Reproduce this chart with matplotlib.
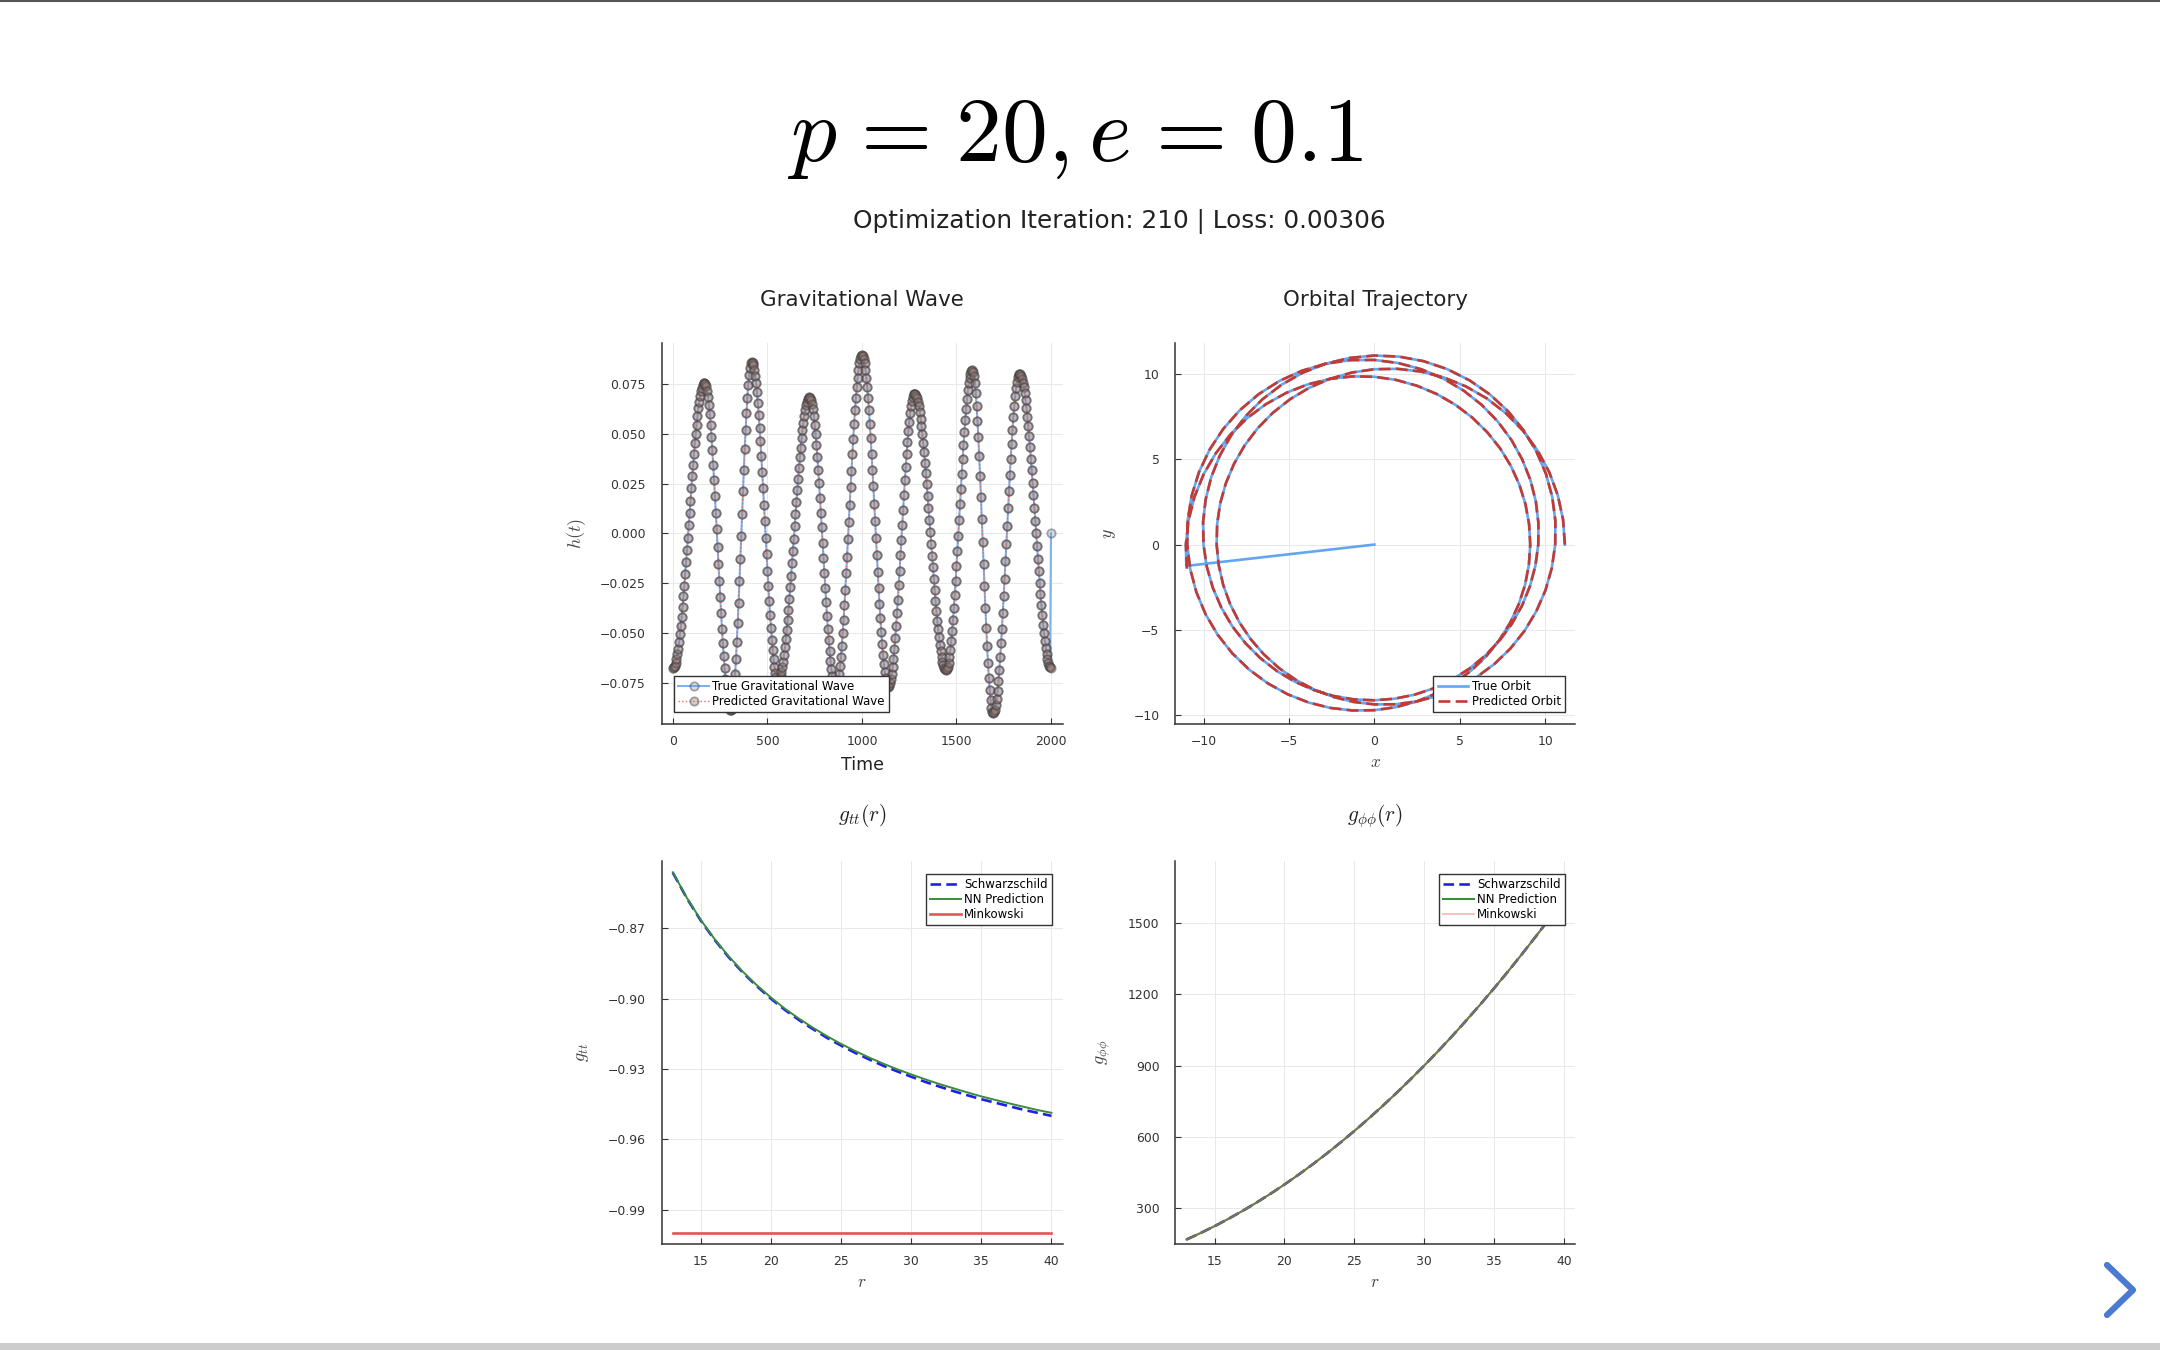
import numpy as np
import matplotlib.pyplot as plt
from matplotlib.lines import Line2D
from matplotlib.patches import Rectangle
from matplotlib.ticker import FuncFormatter

plt.rcParams['font.family'] = ['DejaVu Sans']
plt.rcParams['mathtext.fontset'] = 'cm'

main_title = r'$p\hspace{0.1}=\hspace{0.1}20,e\hspace{0.1}=\hspace{0.1}0.1$'
subtitle = 'Optimization Iteration: 210 | Loss: 0.00306'

# gravitational wave h(t), in units of 1e-3, evenly sampled over t = 0..2000
gw_pred_milli = [
    -67.5, -67.2, -66.4, -65.1, -63.2, -60.8, -57.9, -54.6, -50.7, -46.5, -41.9, -37.0, -31.7,
    -26.2, -20.4, -14.4, -8.3, -2.1, 4.1, 10.3, 16.5, 22.6, 28.6, 34.4, 39.9, 45.2, 50.1,
    54.7, 59.0, 62.8, 66.1, 69.0, 71.4, 73.3, 74.6, 75.4, 75.7,
    75.3, 73.9, 71.7, 68.6, 64.7, 60.0, 54.5, 48.5, 41.8, 34.5, 26.8, 18.8, 10.5, 2.0, -6.7,
    -15.3, -23.8, -32.1, -40.1, -47.8, -55.1, -61.8, -67.8, -73.3, -78.0, -81.9, -85.0, -87.2,
    -88.6, -89.0,
    -88.2, -86.0, -82.3, -77.3, -70.9, -63.3, -54.7, -45.2, -34.9, -24.1, -12.8, -1.4, 10.0,
    21.3, 32.1, 42.4, 51.9, 60.5, 68.1, 74.5, 79.5, 83.2, 85.5, 86.2,
    85.8, 84.5, 82.3, 79.3, 75.5, 70.9, 65.6, 59.7, 53.2, 46.2, 38.7, 30.9, 22.8, 14.5, 6.1,
    -2.3, -10.6, -18.7, -26.5, -34.0, -41.0, -47.5, -53.4, -58.7, -63.3, -67.1, -70.1, -72.3,
    -73.6, -74.0,
    -73.7, -72.9, -71.6, -69.7, -67.3, -64.5, -61.1, -57.3, -53.1, -48.5, -43.6, -38.4, -32.8,
    -27.1, -21.2, -15.1, -8.9, -2.7, 3.5, 9.7, 15.8, 21.7, 27.4, 33.0, 38.2, 43.1, 47.7, 51.9,
    55.7, 59.1, 61.9, 64.3, 66.2, 67.5, 68.3, 68.6,
    68.2, 67.0, 65.0, 62.3, 58.8, 54.6, 49.8, 44.4, 38.4, 32.0, 25.1, 18.0, 10.5, 3.0, -4.7,
    -12.4, -19.9, -27.4, -34.5, -41.4, -47.8, -53.8, -59.2, -64.0, -68.2, -71.7, -74.4, -76.4,
    -77.6, -78.0,
    -77.5, -76.2, -73.9, -70.8, -66.8, -62.0, -56.5, -50.3, -43.5, -36.1, -28.3, -20.1, -11.7,
    -3.0, 5.8, 14.5, 23.2, 31.6, 39.8, 47.6, 55.0, 61.8, 68.0, 73.5, 78.3, 82.3, 85.4, 87.7,
    89.0, 89.5,
    89.0, 87.7, 85.4, 82.3, 78.3, 73.6, 68.1, 62.0, 55.2, 47.9, 40.1, 32.0, 23.6, 15.0, 6.2,
    -2.4, -11.1, -19.5, -27.6, -35.4, -42.7, -49.5, -55.6, -61.1, -65.8, -69.8, -72.9, -75.2,
    -76.5, -77.0,
    -76.6, -75.4, -73.4, -70.6, -67.1, -62.9, -58.1, -52.6, -46.6, -40.2, -33.3, -26.1, -18.7,
    -11.0, -3.3, 4.4, 12.0, 19.4, 26.6, 33.5, 39.9, 45.9, 51.4, 56.2, 60.4, 63.9, 66.7, 68.7,
    69.9, 70.3,
    70.0, 69.2, 67.9, 66.1, 63.8, 61.0, 57.7, 54.0, 50.0, 45.5, 40.7, 35.6, 30.2, 24.6, 18.8,
    12.9, 6.9, 0.8, -5.2, -11.2, -17.1, -22.9, -28.5, -33.9, -39.0, -43.8, -48.3, -52.3, -56.0,
    -59.3, -62.1, -64.4, -66.2, -67.5, -68.3, -68.6,
    -68.2, -67.0, -64.9, -62.1, -58.5, -54.2, -49.3, -43.7, -37.6, -30.9, -23.9, -16.6, -8.9,
    -1.2, 6.7, 14.6, 22.4, 30.0, 37.3, 44.3, 51.0, 57.1, 62.7, 67.6, 71.9, 75.5, 78.3, 80.3,
    81.6, 82.0,
    81.3, 79.1, 75.4, 70.4, 64.2, 56.7, 48.3, 38.9, 28.8, 18.1, 7.0, -4.3, -15.5, -26.6, -37.3,
    -47.4, -56.8, -65.2, -72.7, -78.9, -83.9, -87.6, -89.8, -90.5,
    -90.0, -88.6, -86.3, -83.1, -79.1, -74.2, -68.6, -62.2, -55.3, -47.8, -39.8, -31.5, -22.9,
    -14.0, -5.1, 3.8, 12.6, 21.3, 29.6, 37.6, 45.1, 52.0, 58.4, 64.0, 68.9, 72.9, 76.1, 78.4,
    79.8, 80.3,
    80.0, 79.2, 77.8, 75.8, 73.4, 70.4, 66.9, 63.0, 58.6, 53.9, 48.8, 43.3, 37.6, 31.7, 25.5,
    19.2, 12.8, 6.4, 0.0, -6.4, -12.7, -18.9, -24.8, -30.5, -36.0, -41.1, -45.8, -50.2, -54.1,
    -57.6, -60.6, -63.0, -65.0, -66.4, -67.2, -67.5,
]
gw_time = np.linspace(0, 2000, len(gw_pred_milli))
gw_pred = np.array(gw_pred_milli) * 1e-3
gw_true = gw_pred.copy()
gw_true[-1] = 0.0  # true series ends on a zero sample

# orbit radius read every 7.5 degrees of orbital angle (0 .. 1260 deg)
orbit_phi_deg = [7.5 * i for i in range(169)]
orbit_r = [
    11.156, 11.148, 11.126, 11.090, 11.040, 10.977, 10.903, 10.819, 10.726, 10.627,
    10.521, 10.412, 10.301, 10.189, 10.077, 9.968, 9.861, 9.759, 9.662, 9.572,
    9.488, 9.412, 9.345, 9.285, 9.235, 9.194, 9.163, 9.141, 9.129, 9.128,
    9.136, 9.154, 9.182, 9.220, 9.267, 9.323, 9.388, 9.461, 9.542, 9.630,
    9.725, 9.825, 9.930, 10.039, 10.150, 10.262, 10.374, 10.484, 10.591, 10.692,
    10.787, 10.875, 10.953, 11.019, 11.074, 11.115, 11.142, 11.155, 11.152, 11.135,
    11.104, 11.058, 11.000, 10.930, 10.850, 10.759, 10.662, 10.558, 10.451, 10.340,
    10.228, 10.116, 10.005, 9.898, 9.794, 9.695, 9.603, 9.517, 9.438, 9.367,
    9.305, 9.251, 9.207, 9.173, 9.148, 9.132, 9.127, 9.132, 9.147, 9.171,
    9.206, 9.249, 9.302, 9.364, 9.435, 9.513, 9.599, 9.691, 9.790, 9.893,
    10.001, 10.111, 10.223, 10.335, 10.446, 10.554, 10.658, 10.755, 10.845, 10.927,
    10.998, 11.056, 11.102, 11.134, 11.152, 11.155, 11.143, 11.116, 11.076, 11.022,
    10.956, 10.879, 10.792, 10.697, 10.595, 10.488, 10.378, 10.267, 10.155, 10.044,
    9.935, 9.830, 9.729, 9.634, 9.546, 9.464, 9.391, 9.325, 9.269, 9.222,
    9.184, 9.155, 9.137, 9.128, 9.129, 9.140, 9.162, 9.193, 9.233, 9.283,
    9.342, 9.409, 9.485, 9.568, 9.658, 9.755, 9.857, 9.963, 10.072, 10.184,
    10.296, 10.407, 10.517, 10.622, 10.722, 10.815, 10.899, 10.974, 11.037,
]
true_tail_phi = [1266.5, 1266.5]
true_tail_r = [11.082, 0.0]
pred_tail_phi = [1268.5]
pred_tail_r = [11.094]

# metric components
r_grid = list(range(13, 41))
gtt_schw = [-0.8462, -0.8571, -0.8667, -0.8750, -0.8824, -0.8889, -0.8947, -0.9000, -0.9048,
            -0.9091, -0.9130, -0.9167, -0.9200, -0.9231, -0.9259, -0.9286, -0.9310, -0.9333,
            -0.9355, -0.9375, -0.9394, -0.9412, -0.9429, -0.9444, -0.9459, -0.9474, -0.9487,
            -0.9500]
gtt_nn = [-0.8460, -0.8569, -0.8664, -0.8747, -0.8820, -0.8885, -0.8943, -0.8995, -0.9043,
          -0.9085, -0.9124, -0.9160, -0.9193, -0.9223, -0.9251, -0.9277, -0.9301, -0.9323,
          -0.9344, -0.9364, -0.9382, -0.9400, -0.9417, -0.9432, -0.9447, -0.9461, -0.9475,
          -0.9487]
gtt_mink = [-1.0] * len(r_grid)
gpp_schw = [169, 196, 225, 256, 289, 324, 361, 400, 441, 484, 529, 576, 625, 676, 729, 784,
            841, 900, 961, 1024, 1089, 1156, 1225, 1296, 1369, 1444, 1521, 1600]
gpp_nn = list(gpp_schw)
gpp_mink = list(gpp_schw)

W, H = 2160, 1350
fig = plt.figure(figsize=(21.6, 13.5), dpi=100)


def rect(x0, x1, top, bottom):
    return [x0 / W, 1 - bottom / H, (x1 - x0) / W, (bottom - top) / H]


def style(ax):
    for s in ['top', 'right']:
        ax.spines[s].set_visible(False)
    for s in ['left', 'bottom']:
        ax.spines[s].set_color('#333333')
        ax.spines[s].set_linewidth(1.1)
    ax.tick_params(direction='in', length=4, width=0.8, color='#333333',
                   labelsize=8.9, labelcolor='#333333')
    ax.tick_params(axis='x', pad=8)
    ax.tick_params(axis='y', pad=11.5)
    ax.grid(True, color='#e8e8e8', lw=0.7)
    ax.set_axisbelow(True)


def fmt(decimals):
    return FuncFormatter(lambda v, pos: f'{v:.{decimals}f}'.replace('-', '\u2212'))


def labels(ax, xl, yl, xpos, ypos, title, tpos):
    ax.set_xlabel(xl, fontsize=12.5, color='#444444')
    ax.set_ylabel(yl, fontsize=13, color='#444444')
    ax.xaxis.set_label_coords(0.5, xpos)
    ax.yaxis.set_label_coords(ypos, 0.5)
    ax.xaxis.label.set_va('center')
    ax.yaxis.label.set_va('center')
    ax.text(0.5, tpos, title, transform=ax.transAxes, ha='center', va='center',
            fontsize=15.4, color='#222222')


leg_kw = dict(fontsize=8.5, frameon=True, fancybox=False, edgecolor='#333333', framealpha=1,
              borderpad=0.35, labelspacing=0.15, handlelength=2.6, handletextpad=0.3,
              borderaxespad=0)

# --- gravitational wave
ax1 = fig.add_axes(rect(661.6, 1062.7, 343, 724))
style(ax1)
ax1.plot(gw_time, gw_true, color='#7fb0f0', lw=1.5, marker='o', ms=6,
         mfc=(0.5, 0.58, 0.72, 0.3), mec=(0.25, 0.25, 0.25, 0.45), mew=1.3,
         label='True Gravitational Wave', zorder=2)
ax1.plot(gw_time, gw_pred, color='#e07060', lw=1.0, ls=':', marker='o', ms=6,
         mfc=(0.62, 0.5, 0.48, 0.4), mec=(0.25, 0.25, 0.25, 0.45), mew=1.3,
         label='Predicted Gravitational Wave', zorder=3)
ax1.set_xlim(-60, 2062)
ax1.set_ylim(-0.0958, 0.0957)
ax1.set_xticks([0, 500, 1000, 1500, 2000])
ax1.set_yticks([-0.075, -0.05, -0.025, 0, 0.025, 0.05, 0.075])
ax1.yaxis.set_major_formatter(fmt(3))
labels(ax1, 'Time', r'$h(t)$', -0.1076, -0.213, 'Gravitational Wave', 1.113)
ax1.xaxis.label.set_color('#222222')
ax1.legend(loc='lower left', bbox_to_anchor=(0.031, 0.0315), **leg_kw)

# --- orbital trajectory
phi_t = np.radians(orbit_phi_deg + true_tail_phi)
r_t = np.array(orbit_r + true_tail_r)
phi_p = np.radians(orbit_phi_deg + pred_tail_phi)
r_p = np.array(orbit_r + pred_tail_r)

ax2 = fig.add_axes(rect(1175.4, 1575, 343, 724))
style(ax2)
ax2.plot(r_t * np.cos(phi_t), r_t * np.sin(phi_t), color='#62a6f2', lw=1.9, label='True Orbit')
ax2.plot(r_p * np.cos(phi_p), r_p * np.sin(phi_p), color='#c23a34', lw=1.9,
         dashes=(4.5, 2), label='Predicted Orbit')
ax2.set_xlim(-11.65, 11.75)
ax2.set_ylim(-10.54, 11.84)
ax2.set_xticks([-10, -5, 0, 5, 10])
ax2.set_yticks([-10, -5, 0, 5, 10])
ax2.xaxis.set_major_formatter(fmt(0))
ax2.yaxis.set_major_formatter(fmt(0))
labels(ax2, r'$x$', r'$y$', -0.10, -0.166, 'Orbital Trajectory', 1.113)
ax2.legend(loc='lower right', bbox_to_anchor=(0.975, 0.0315), **leg_kw)

# --- g_tt
ax3 = fig.add_axes(rect(661.6, 1062.7, 861, 1244))
style(ax3)
ax3.plot(r_grid, gtt_schw, color='#1f1fe6', lw=1.9, dashes=(4, 2), label='Schwarzschild', zorder=3)
ax3.plot(r_grid, gtt_nn, color='#3b8c3b', lw=1.4, label='NN Prediction', zorder=4)
ax3.plot(r_grid, gtt_mink, color='#e05555', lw=1.9, label='Minkowski', zorder=2)
ax3.set_xlim(12.2, 40.8)
ax3.set_ylim(-1.0047, -0.8412)
ax3.set_xticks([15, 20, 25, 30, 35, 40])
ax3.set_yticks([-0.99, -0.96, -0.93, -0.90, -0.87])
ax3.yaxis.set_major_formatter(fmt(2))
labels(ax3, r'$r$', r'$g_{tt}$', -0.098, -0.198, r'$g_{tt}(r)$', 1.1175)
ax3.legend(loc='upper right', bbox_to_anchor=(0.973, 0.966), **leg_kw)

# --- g_phiphi
ax4 = fig.add_axes(rect(1175.4, 1575, 861, 1244))
style(ax4)
ax4.plot(r_grid, gpp_schw, color='#1f1fe6', lw=1.9, dashes=(4, 2), label='Schwarzschild', zorder=3)
ax4.plot(r_grid, gpp_nn, color='#3b8c3b', lw=1.5, label='NN Prediction', zorder=4)
ax4.plot(r_grid, gpp_mink, color='#e05555', alpha=0.35, lw=1.5, label='Minkowski', zorder=5)
ax4.set_xlim(12.2, 40.8)
ax4.set_ylim(150, 1761)
ax4.set_xticks([15, 20, 25, 30, 35, 40])
ax4.set_yticks([300, 600, 900, 1200, 1500])
labels(ax4, r'$r$', r'$g_{\phi\phi}$', -0.098, -0.178, r'$g_{\phi\phi}(r)$', 1.1175)
ax4.legend(loc='upper right', bbox_to_anchor=(0.975, 0.966), **leg_kw)

# --- figure titles
fig.text(1075 / W, 1 - 161 / H, main_title, ha='center', va='baseline', fontsize=66)
fig.text(1119 / W, 1 - 222 / H, subtitle, ha='center', va='center', fontsize=17.8,
         color='#222222')

# page edges and navigation arrow
fig.add_artist(Line2D([0, 1], [1 - 1 / H, 1 - 1 / H], color='#555555', lw=1.5))
fig.add_artist(Rectangle((0, 0), 1, 7 / H, color='#cccccc', lw=0))
fig.add_artist(Line2D([2107 / W, 2133 / W, 2107 / W], [1 - 1265 / H, 1 - 1290 / H, 1 - 1315 / H],
                      color='#4a7bd1', lw=4.5, solid_capstyle='round', solid_joinstyle='round'))

fig.savefig('out.png', dpi=100, facecolor='white')
